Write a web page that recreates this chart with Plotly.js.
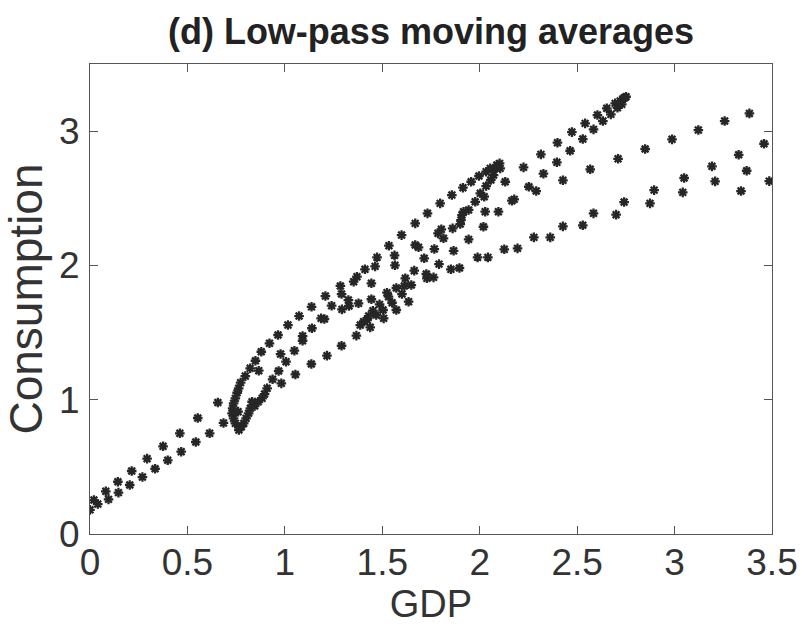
<!DOCTYPE html>
<html>
<head>
<meta charset="utf-8">
<script src="https://cdn.plot.ly/plotly-3.0.1.min.js"></script>
<style>html,body{margin:0;padding:0;background:#fff;}#chart{width:806px;height:634px;}</style>
</head>
<body>
<div id="chart"></div>
<script>
// GDP (x) and Consumption (y) low-pass moving averages
const gdp = [
  0.00,0.02,0.04,0.081,0.095,0.143,0.146,0.204,0.214,0.269,0.293,0.334,0.375,0.399,0.461,0.468,0.543,0.553,0.614,0.656,0.685,
  1.016,1.139,0.965,1.091,1.091,0.921,0.879,0.978,1.049,0.849,1.006,1.136,0.822,0.866,0.968,0.797,1.054,0.937,0.982,0.773,0.763,0.909,0.755,0.896,0.746,0.883,0.737,0.863,0.832,0.845,0.732,0.823,0.729,0.814,0.760,0.737,0.801,0.746,0.789,0.763,0.777,0.764,
  1.073,1.137,1.186,1.203,1.208,1.240,1.216,1.291,1.367,1.285,1.291,1.293,1.326,1.329,1.353,1.370,1.378,1.411,1.463,1.473,1.444,1.444,1.387,1.404,1.422,1.430,1.438,1.452,1.469,1.486,1.504,1.507,1.524,1.532,1.550,1.572,1.572,1.534,1.563,1.565,1.618,1.613,1.649,1.601,1.635,1.726,1.729,1.664,
  1.599,1.669,1.732,1.797,1.857,1.914,1.956,1.996,2.033,2.054,2.079,2.088,2.102,2.105,2.071,2.057,2.131,2.033,2.003,2.023,1.977,1.943,1.917,1.909,1.904,1.900,2.028,2.096,2.165,2.177,2.019,1.861,1.803,1.786,1.814,1.943,1.669,1.686,1.767,1.866,2.126,2.194,1.715,1.989,2.042,1.763,1.791,1.852,1.896,
  2.225,2.252,2.290,2.314,2.327,2.396,2.399,2.427,2.464,2.473,2.278,2.362,2.427,2.529,2.541,2.584,2.604,2.632,2.652,2.673,2.695,2.707,2.721,2.734,2.743,2.729,2.751,2.567,2.710,2.849,2.987,3.122,3.257,3.384,3.459,3.329,3.192,3.049,2.895,2.741,2.584,2.529,2.700,2.874,3.042,3.208,3.370,3.486,3.341
];
const consumption = [
  0.18,0.253,0.223,0.318,0.258,0.389,0.308,0.365,0.469,0.424,0.561,0.486,0.653,0.549,0.750,0.613,0.685,0.864,0.750,0.979,0.827,
  1.556,1.532,1.482,1.474,1.439,1.420,1.357,1.340,1.365,1.290,1.283,1.266,1.234,1.216,1.214,1.176,1.188,1.152,1.122,1.127,1.085,1.085,1.052,1.042,1.010,1.010,0.973,0.985,0.985,0.953,0.936,0.936,0.899,0.899,0.911,0.861,0.861,0.824,0.824,0.794,0.799,0.774,
  1.623,1.692,1.606,1.601,1.772,1.700,1.328,1.402,1.477,1.847,1.787,1.673,1.742,1.698,1.879,1.916,1.718,1.971,1.993,2.060,1.867,1.748,1.556,1.581,1.593,1.623,1.539,1.663,1.631,1.710,1.668,1.606,1.797,1.767,1.722,1.832,1.668,2.147,2.075,2.001,1.904,1.847,1.854,1.787,1.730,1.936,1.904,1.961,
  2.226,2.313,2.388,2.462,2.524,2.579,2.623,2.666,2.698,2.723,2.723,2.748,2.760,2.723,2.673,2.636,2.623,2.591,2.537,2.512,2.474,2.413,2.400,2.375,2.338,2.308,2.400,2.400,2.482,2.492,2.288,2.276,2.269,2.239,2.202,2.194,2.152,2.135,2.122,2.109,2.120,2.127,2.053,2.060,2.060,1.911,2.010,1.971,1.981,
  2.730,2.586,2.554,2.827,2.683,2.768,2.914,2.634,2.854,2.993,2.209,2.209,2.291,2.941,3.058,3.013,3.120,3.075,3.170,3.125,3.207,3.174,3.224,3.239,3.249,3.200,3.256,2.716,2.794,2.867,2.939,3.008,3.075,3.132,2.906,2.824,2.738,2.651,2.561,2.472,2.388,2.299,2.378,2.462,2.544,2.626,2.705,2.628,2.554
];
const xTicks = [0, 0.5, 1, 1.5, 2, 2.5, 3, 3.5];
const xTickText = ['0', '0.5', '1', '1.5', '2', '2.5', '3', '3.5'];
const yTicks = [0, 1, 2, 3];
const yTickText = ['0', '1', '2', '3'];

const sans = '"Liberation Sans", Arial, Helvetica, sans-serif';

const trace = {
  x: gdp, y: consumption,
  type: 'scatter', mode: 'markers',
  marker: { symbol: 'asterisk-open', size: 8, color: '#262626', line: { color: '#262626', width: 2.3 } },
  hoverinfo: 'x+y', cliponaxis: true
};

const axisCommon = {
  showgrid: false, zeroline: false, showline: true, mirror: 'ticks',
  linecolor: '#555', linewidth: 1, ticks: 'inside', ticklen: 8, tickwidth: 1, tickcolor: '#555',
  tickfont: { family: sans, size: 37, color: '#333' }
};

const layout = {
  width: 806, height: 634,
  paper_bgcolor: '#fff', plot_bgcolor: '#fff',
  margin: { l: 89.5, r: 34, t: 64, b: 100 },
  showlegend: false,
  title: { text: '<b>(d) Low-pass moving averages</b>', x: 0.5, xref: 'paper', y: 0.95, yref: 'container', yanchor: 'middle',
           font: { family: sans, size: 36, color: '#222' } },
  xaxis: Object.assign({}, axisCommon, {
    range: [0, 3.5], tickvals: xTicks, ticktext: xTickText, ticklabelstandoff: -4,
    title: { text: 'GDP', font: { family: sans, size: 38, color: '#333' }, standoff: 0 }
  }),
  yaxis: Object.assign({}, axisCommon, {
    range: [0, 3.5], tickvals: yTicks, ticktext: yTickText, ticklabelstandoff: 2,
    title: { text: 'Consumption', font: { family: sans, size: 46, color: '#333' }, standoff: 2 }
  })
};

Plotly.newPlot('chart', [trace], layout, { displayModeBar: false, staticPlot: true });
</script>
</body>
</html>
